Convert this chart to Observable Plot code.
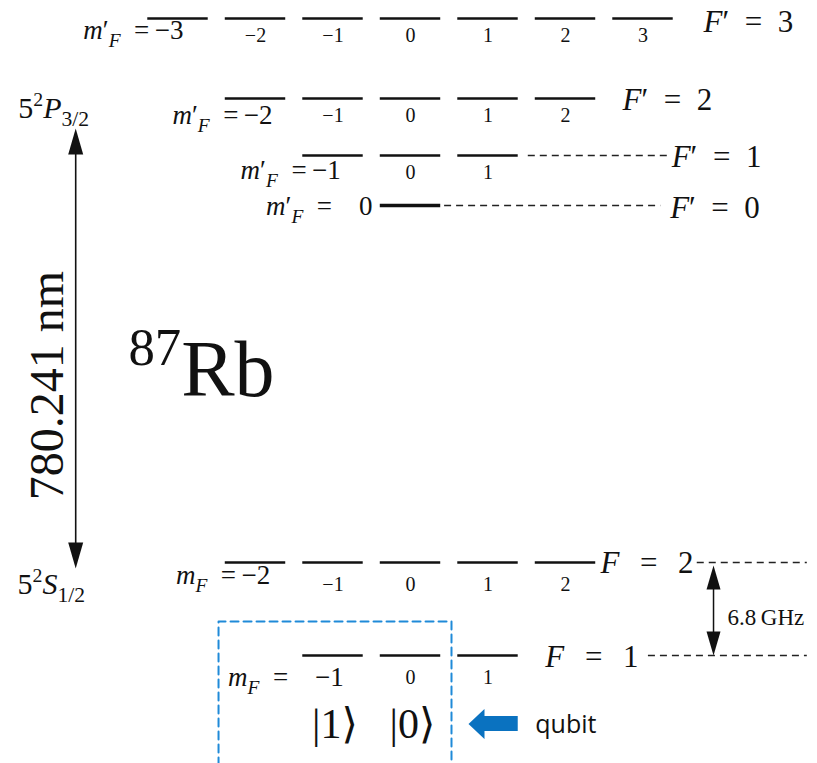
<!DOCTYPE html>
<html><head><meta charset="utf-8">
<script src="https://cdn.jsdelivr.net/npm/d3@7"></script>
<script src="https://cdn.jsdelivr.net/npm/@observablehq/plot@0.6"></script>
<style>html,body{margin:0;padding:0;background:#fff;overflow:hidden}</style>
</head><body><div id="chart"></div>
<script>
// ---------------- data ----------------
const levelSymbols = ["F′", "F′", "F′", "F′", "F", "F"];          // hyperfine level symbol
const levelF = [3, 2, 1, 0, 2, 1];                                 // total angular momentum F
const levelEnergy = [6.37, 5.57, 5.00, 4.50, 0.93, 0.00];          // schematic (not to scale) diagram energy
const manifoldLabels = ["5^{2}P_{3/2}", "5^{2}S_{1/2}"];
const transitionLabel = "780.241 nm";
const isotopeLabel = "^{87}Rb";
const splittingLabel = "6.8\u2009GHz";
const qubitStates = ["|1⟩", "|0⟩"];
const qubitMF = [-1, 0];
const qubitText = "qubit";

// ---------------- layout (scale units: x = m_F column, y = schematic energy) ----------------
const HW = 0.39;
const layout = {
  levelLabelX: [3.78, 2.735, 3.37, 3.35, 2.45, 1.74],
  levelLabelDy: [4, 2, 2, 3, 1, 2],
  prefixX: [-2.93, -1.78, -0.90, -0.49, -1.81, -0.86],
  prefixDy: [12, 17, 15, 1, 13, 22],
  prefixGap: ["\u2009", "\u2009", "\u2009", "\u2002\u2002", "\u2009", "\u2002\u2002"],
  digitDy: [17, 17, 17, 0, 22, 22],
  dash: [null, null, [1.52, 3.33], [0.44, 3.23], [3.70, 5.12], [3.07, 5.12]],
  manifoldX: [-5.06, -5.07], manifoldY: [5.38, 0.62],
  bigArrowX: -4.32, bigArrowTips: [5.27, 0.87],
  transitionX: -4.68, transitionY: 2.70,
  isotopeX: -3.64, isotopeY: 2.60,
  ghzX: 3.91, ghzTips: [0.90, 0.0], ghzTextX: 4.09, ghzTextY: 0.38,
  box: [[-2.477, -1.10], [-2.477, 0.34], [0.529, 0.34], [0.529, -1.10]],
  qubitY: -0.69,
  blueShaft: {x1: 0.94, x2: 1.39, y1: -0.61, y2: -0.76}, blueTip: [0.748, -0.685],
  qubitTextX: 1.61
};

const fmtM = m => (m < 0 ? "\u2212" : "") + Math.abs(m);
const levels = levelF.map((F, i) => ({i, sym: levelSymbols[i], F, E: levelEnergy[i]}));
const subs = levels.flatMap(l => d3.range(-l.F, l.F + 1).map(m => ({...l, m})));
const serif = "'Liberation Serif', 'DejaVu Serif', serif";

const marks = [];
// qubit box
marks.push(Plot.line(layout.box, {x: d => d[0], y: d => d[1], stroke: "#1f8ad8", strokeWidth: 2, strokeDasharray: "8,5"}));
// sublevel bars
marks.push(Plot.ruleY(subs.filter(d => d.F !== 0), {y: "E", x1: d => d.m - HW, x2: d => d.m + HW, strokeWidth: 2.6, stroke: "#111"}));
marks.push(Plot.ruleY(subs.filter(d => d.F === 0), {y: "E", x1: d => d.m - HW, x2: d => d.m + HW, strokeWidth: 3.6, stroke: "#111"}));
// dashed continuation lines
const dashRows = levels.filter(l => layout.dash[l.i]);
marks.push(Plot.ruleY(dashRows, {y: "E", x1: l => layout.dash[l.i][0], x2: l => layout.dash[l.i][1], stroke: "#222", strokeWidth: 1.3, strokeDasharray: "7,5"}));
// per-level texts
levels.forEach(l => {
  const row = subs.filter(d => d.i === l.i && d.m !== -d.F);
  if (row.length) marks.push(Plot.text(row, {x: "m", y: "E", dy: layout.digitDy[l.i], text: d => fmtM(d.m), fontSize: 20, fontFamily: serif, lineAnchor: "middle"}));
  const pre = `${l.sym === "F′" ? "m′" : "m"}_{F}\u2002=${layout.prefixGap[l.i]}${fmtM(-l.F)}`;
  marks.push(Plot.text([pre], {x: layout.prefixX[l.i], y: l.E, dy: layout.prefixDy[l.i], text: d => d, textAnchor: "end", lineAnchor: "middle", fontSize: 27, fontFamily: serif, ariaDescription: "math"}));
  const gap = l.sym === "F′" ? "\u2002" : "\u2002\u2006";
  marks.push(Plot.text([`${l.sym}${gap}=${gap}${l.F}`], {x: layout.levelLabelX[l.i], y: l.E, dy: layout.levelLabelDy[l.i], text: d => d, textAnchor: "start", lineAnchor: "middle", fontSize: 31, fontFamily: serif, ariaDescription: "math"}));
});
// manifold labels
marks.push(Plot.text(manifoldLabels, {x: (d, i) => layout.manifoldX[i], y: (d, i) => layout.manifoldY[i], text: d => d, textAnchor: "start", lineAnchor: "bottom", fontSize: 30, fontFamily: serif, ariaDescription: "math"}));
// 780 nm transition arrow
marks.push(Plot.ruleX([layout.bigArrowX], {y1: layout.bigArrowTips[0] - 0.2, y2: layout.bigArrowTips[1] + 0.2, strokeWidth: 1.6, stroke: "#111"}));
const heads = [
  {x: layout.bigArrowX, y: layout.bigArrowTips[0], rotate: 0},
  {x: layout.bigArrowX, y: layout.bigArrowTips[1], rotate: 180}
];
marks.push(Plot.vector(heads, {x: "x", y: "y", rotate: "rotate", length: 26, r: 7.5, shape: "spike", anchor: "end", fill: "#111", stroke: "none", fillOpacity: 1}));
marks.push(Plot.text([transitionLabel], {x: layout.transitionX, y: layout.transitionY, text: d => d, rotate: -90, textAnchor: "middle", lineAnchor: "middle", fontSize: 48, fontFamily: serif}));
marks.push(Plot.text([isotopeLabel], {x: layout.isotopeX, y: layout.isotopeY, text: d => d, textAnchor: "start", lineAnchor: "bottom", fontSize: 80, fontFamily: serif}));
// 6.8 GHz splitting arrow
marks.push(Plot.ruleX([layout.ghzX], {y1: layout.ghzTips[0] - 0.15, y2: layout.ghzTips[1] + 0.15, strokeWidth: 1.5, stroke: "#111"}));
marks.push(Plot.vector([
  {x: layout.ghzX, y: layout.ghzTips[0], rotate: 0},
  {x: layout.ghzX, y: layout.ghzTips[1], rotate: 180}
], {x: "x", y: "y", rotate: "rotate", length: 24, r: 7, shape: "spike", anchor: "end", fill: "#111", stroke: "none", fillOpacity: 1}));
marks.push(Plot.text([splittingLabel], {x: layout.ghzTextX, y: layout.ghzTextY, text: d => d, textAnchor: "start", lineAnchor: "middle", fontSize: 23, fontFamily: serif}));
// qubit states
marks.push(Plot.text(qubitStates, {x: (d, i) => qubitMF[i], y: layout.qubitY, dx: 2, text: d => d, textAnchor: "middle", lineAnchor: "middle", fontSize: 42, fontFamily: serif}));
// blue pointer arrow
marks.push(Plot.rect([0], {x1: layout.blueShaft.x1, x2: layout.blueShaft.x2, y1: layout.blueShaft.y1, y2: layout.blueShaft.y2, fill: "#0a72c0"}));
marks.push(Plot.vector([layout.blueTip], {x: d => d[0], y: d => d[1], rotate: -90, length: 16, r: 15, shape: "spike", anchor: "end", fill: "#0a72c0", stroke: "none", fillOpacity: 1}));
marks.push(Plot.text([qubitText], {x: layout.qubitTextX, y: layout.qubitY, text: d => d, textAnchor: "start", lineAnchor: "middle", fontSize: 25, fontFamily: "'Open Sans', sans-serif"}));

const chart = Plot.plot({
  width: 817, height: 763,
  marginTop: 0, marginRight: 0, marginBottom: 0, marginLeft: 0,
  x: {domain: [-3, 3], range: [177.5, 642.5], axis: null},
  y: {domain: [0, 6.37], range: [655, 18], axis: null},
  style: {background: "white", fontFamily: serif, color: "#111", overflow: "visible"},
  marks
});
document.getElementById("chart").appendChild(chart);

// ---- rich text: _{sub}, ^{sup}, italic letters in math labels ----
const NS = "http://www.w3.org/2000/svg";
chart.querySelectorAll("text").forEach(t => {
  const mathG = t.closest('g[aria-description="math"]');
  const s = t.textContent;
  if (!mathG && !/[_^]\{/.test(s)) return;
  const fs = parseFloat(getComputedStyle(t).fontSize);
  const segs = [];
  let buf = "", i = 0;
  while (i < s.length) {
    if ((s[i] === "_" || s[i] === "^") && s[i + 1] === "{") {
      if (buf) segs.push({t: buf, k: "n"}); buf = "";
      const j = s.indexOf("}", i);
      segs.push({t: s.slice(i + 2, j), k: s[i] === "_" ? "sub" : "sup"});
      i = j + 1;
    } else { buf += s[i]; i++; }
  }
  if (buf) segs.push({t: buf, k: "n"});
  t.textContent = "";
  let shift = 0;
  segs.forEach(seg => {
    const size = seg.k === "n" ? fs : fs * (seg.k === "sup" ? 0.66 : 0.72);
    const target = seg.k === "sub" ? fs * 0.28 : seg.k === "sup" ? -fs * 0.38 : 0;
    const runs = mathG ? seg.t.match(/[A-Za-z]+|[^A-Za-z]+/g) : [seg.t];
    runs.forEach((r, ri) => {
      const ts = document.createElementNS(NS, "tspan");
      ts.textContent = r;
      ts.setAttribute("font-size", size);
      if (ri === 0 && target !== shift) { ts.setAttribute("dy", (target - shift).toFixed(2)); shift = target; }
      ts.setAttribute("font-style", mathG && /[A-Za-z]/.test(r) ? "italic" : "normal");
      t.appendChild(ts);
    });
  });
});
</script>
</body></html>
